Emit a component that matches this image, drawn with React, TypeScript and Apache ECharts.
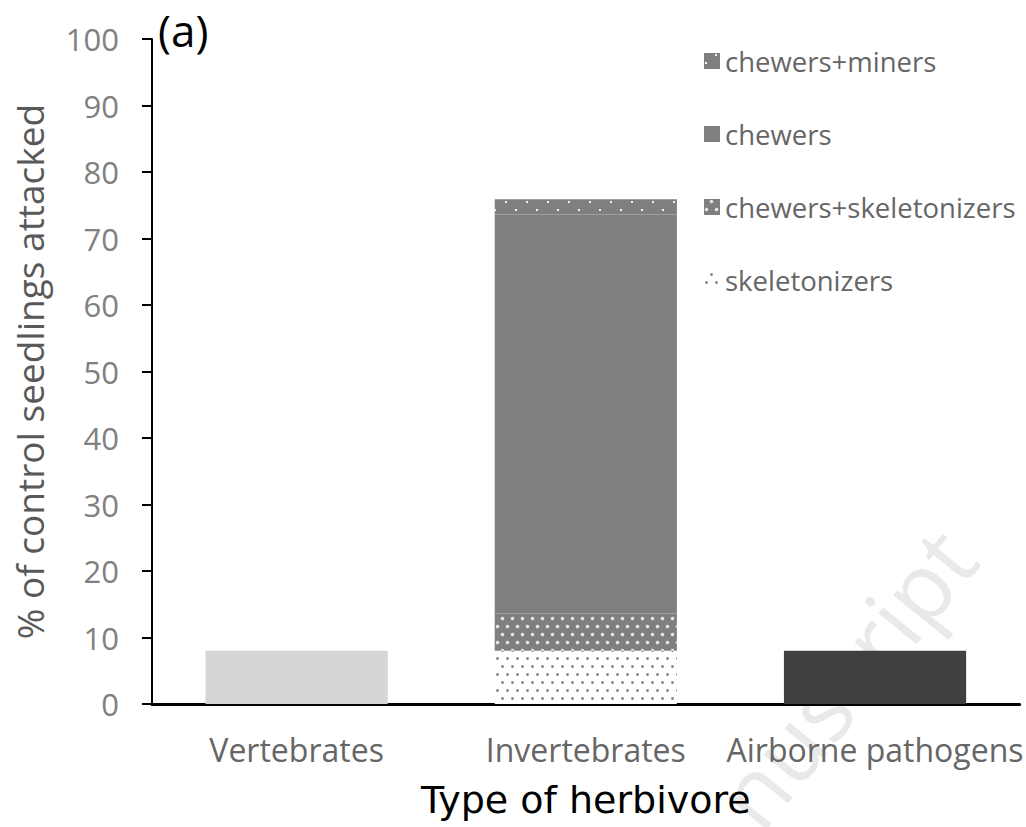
import React, { useEffect, useRef } from "react";
import * as echarts from "echarts";

const categories = ["Vertebrates", "Invertebrates", "Airborne pathogens"];
const vertebrates = [8.0, "-", "-"];
const skeletonizers = ["-", 8.0, "-"];
const chewersSkeletonizers = ["-", 5.6, "-"];
const chewers = ["-", 60.0, "-"];
const chewersMiners = ["-", 2.3, "-"];
const airborne = ["-", "-", 8.0];
const legendOrder = ["chewers+miners", "chewers", "chewers+skeletonizers", "skeletonizers"];

const FONT = "'Open Sans', sans-serif";

export default function App() {
  const ref = useRef<HTMLDivElement>(null);
  useEffect(() => {
    if (!ref.current) return;
    const chart = echarts.init(ref.current, null, { renderer: "svg" });
    const base = { type: "bar", stack: "total", barWidth: "63%" };
    chart.setOption({
      animation: false,
      textStyle: { fontFamily: FONT },
      grid: { left: 152, right: 3, top: 39, bottom: 123, containLabel: false },
      legend: {
        data: legendOrder,
        orient: "vertical",
        icon: "rect",
        left: 699,
        top: 42,
        itemWidth: 16,
        itemHeight: 16,
        itemGap: 45,
        textStyle: { fontSize: 27.5, color: "#666666", fontFamily: FONT, padding: [0, 0, 0, 0] },
      },
      xAxis: {
        type: "category",
        data: categories,
        name: "Type of herbivore",
        nameLocation: "middle",
        nameGap: 77,
        nameMoveOverlap: false,
        nameTextStyle: { fontSize: 38, color: "#000", fontFamily: "'DejaVu Sans', sans-serif" },
        axisLine: { lineStyle: { color: "#000", width: 3 } },
        axisTick: { show: false },
        axisLabel: { interval: 0, hideOverlap: false, fontSize: 32, color: "#666666", margin: 29, fontFamily: FONT },
      },
      yAxis: {
        type: "value",
        min: 0,
        max: 100,
        interval: 10,
        name: "% of control seedlings attacked",
        nameLocation: "middle",
        nameGap: 104,
        nameMoveOverlap: false,
        nameTextStyle: { fontSize: 37, color: "#595959", fontFamily: FONT },
        axisLine: { show: true, lineStyle: { color: "#000", width: 2 } },
        axisTick: { show: true, length: 10, lineStyle: { color: "#000", width: 2 } },
        splitLine: { show: false },
        axisLabel: { fontSize: 31, color: "#808080", margin: 33, fontFamily: FONT },
      },
      series: [
        { ...base, name: "vertebrates", data: vertebrates, itemStyle: { color: "#d5d5d5" } },
        {
          ...base,
          name: "skeletonizers",
          data: skeletonizers,
          itemStyle: {
            color: "#ffffff",
            decal: { symbol: "circle", symbolSize: 0.6, color: "#8a8a8a", dashArrayX: [[5, 5], [0, 5, 5, 0]], dashArrayY: [5, 3] },
          },
        },
        {
          ...base,
          name: "chewers+skeletonizers",
          data: chewersSkeletonizers,
          itemStyle: {
            color: "#7f7f7f",
            decal: { symbol: "circle", symbolSize: 0.7, color: "#e8e8e8", dashArrayX: [[5, 5], [0, 5, 5, 0]], dashArrayY: [5, 3] },
          },
        },
        { ...base, name: "chewers", data: chewers, itemStyle: { color: "#7f7f7f" } },
        {
          ...base,
          name: "chewers+miners",
          data: chewersMiners,
          itemStyle: {
            color: "#7f7f7f",
            decal: { symbol: "rect", symbolSize: 0.5, color: "#f2f2f2", dashArrayX: [[4, 17], [0, 10, 4, 7]], dashArrayY: [4, 4] },
          },
        },
        { ...base, name: "airborne pathogens", data: airborne, itemStyle: { color: "#404040" } },
      ],
      graphic: [
        { type: "text", left: 158, top: 8, style: { text: "(a)", fontSize: 44, fill: "#000", fontFamily: FONT } },
        {
          type: "text",
          x: 770,
          y: 842,
          rotation: (51 * Math.PI) / 180,
          silent: true,
          z: -10,
          style: {
            text: "nuscript",
            fontSize: 92,
            fill: "#e9e9e9",
            fontFamily: FONT,
            verticalAlign: "bottom",
          },
        },
      ],
    });
    return () => chart.dispose();
  }, []);
  return (
    <div
      ref={ref}
      style={{ position: "absolute", left: 0, top: 0, width: 1026, height: 827 }}
    />
  );
}
